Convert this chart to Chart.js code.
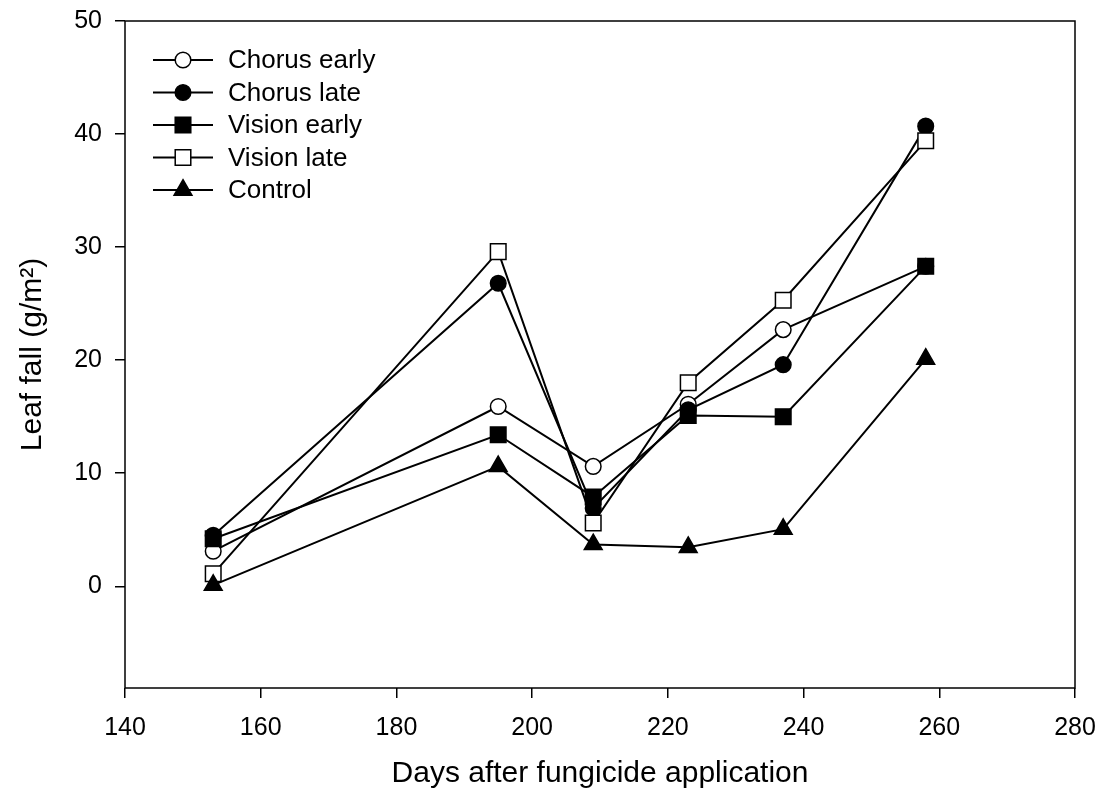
<!DOCTYPE html>
<html>
<head>
<meta charset="utf-8">
<script src="https://cdn.jsdelivr.net/npm/chart.js@4/dist/chart.umd.min.js"></script>
<style>
  body { margin: 0; background: #fff; }
  canvas { display: block; }
</style>
</head>
<body>
<canvas id="myChart" width="1101" height="798"></canvas>
<script>
const days = [153, 195, 209, 223, 237, 258];
const chorusEarly = [3.1, 15.9, 10.6, 16.1, 22.7, 28.3];
const chorusLate = [4.5, 26.8, 6.9, 15.6, 19.6, 40.7];
const visionEarly = [4.2, 13.4, 7.9, 15.1, 15.0, 28.3];
const visionLate = [1.1, 29.6, 5.6, 18.0, 25.3, 39.4];
const control = [0.1, 10.6, 3.7, 3.45, 5.05, 20.1];
const yTicks = [0, 10, 20, 30, 40, 50];

const font = "'Liberation Sans', Arial, sans-serif";

function pairs(values) {
  return days.map((d, i) => ({ x: d, y: values[i] }));
}

function series(label, values, style, fill, radius, order) {
  return {
    label: label,
    data: pairs(values),
    borderColor: "#000",
    borderWidth: 2,
    pointStyle: style,
    pointRadius: radius,
    pointBackgroundColor: fill,
    pointBorderColor: "#000",
    pointBorderWidth: 1.5,
    tension: 0,
    order: order,
  };
}

const datasets = [
  series("Chorus early", chorusEarly, "circle", "#fff", 7.8, 5),
  series("Chorus late", chorusLate, "circle", "#000", 7.8, 4),
  series("Vision early", visionEarly, "rect", "#000", 11, 3),
  series("Vision late", visionLate, "rect", "#fff", 11, 2),
  series("Control", control, "triangle", "#000", 10.3, 1),
];

// box round the plot and a SigmaPlot style legend (line through marker)
const framePlugin = {
  id: "frame",
  afterDraw(chart) {
    const { ctx, chartArea: a } = chart;
    ctx.save();
    ctx.strokeStyle = "#000";
    ctx.lineWidth = 1.5;
    ctx.strokeRect(a.left, a.top, a.right - a.left, a.bottom - a.top);

    const x0 = a.left + 28;
    let y = a.top + 39;
    chart.data.datasets.forEach((ds) => {
      ctx.lineWidth = 2;
      ctx.beginPath();
      ctx.moveTo(x0, y);
      ctx.lineTo(x0 + 60, y);
      ctx.stroke();
      ctx.fillStyle = ds.pointBackgroundColor;
      ctx.strokeStyle = "#000";
      ctx.lineWidth = ds.pointBorderWidth;
      Chart.helpers.drawPoint(ctx, {
        pointStyle: ds.pointStyle,
        radius: ds.pointRadius,
        borderWidth: ds.pointBorderWidth,
        rotation: 0,
      }, x0 + 30, y);
      ctx.fillStyle = "#000";
      ctx.font = "26px " + font;
      ctx.textBaseline = "middle";
      ctx.textAlign = "left";
      ctx.fillText(ds.label, x0 + 75, y + 1);
      y += 32.5;
    });
    ctx.restore();
  },
};

const ctx = document.getElementById("myChart").getContext("2d");
new Chart(ctx, {
  type: "line",
  data: { datasets: datasets },
  options: {
    responsive: false,
    animation: false,
    layout: { padding: { top: 21, right: 26, left: 0, bottom: 0 } },
    plugins: {
      legend: { display: false },
      tooltip: { enabled: false },
    },
    scales: {
      x: {
        type: "linear",
        min: 140,
        max: 280,
        border: { display: false },
        grid: { drawOnChartArea: false, drawTicks: true, tickLength: 10, color: "#000", lineWidth: 1.5 },
        ticks: { stepSize: 20, color: "#000", font: { family: font, size: 25 }, padding: 15, maxRotation: 0 },
        title: {
          display: true,
          text: "Days after fungicide application",
          color: "#000",
          font: { family: font, size: 30 },
          padding: { top: 0, bottom: 6 },
        },
        afterFit(scale) {
          scale.height = 110;
          scale.paddingLeft = 0;
          scale.paddingRight = 0;
        },
      },
      y: {
        type: "linear",
        min: -9,
        max: 50,
        border: { display: false },
        grid: { drawOnChartArea: false, drawTicks: true, tickLength: 10, color: "#000", lineWidth: 1.5 },
        ticks: { color: "#000", font: { family: font, size: 25 }, padding: 13 },
        afterBuildTicks(scale) { scale.ticks = yTicks.map((v) => ({ value: v })); },
        title: {
          display: true,
          text: "Leaf fall (g/m²)",
          color: "#000",
          font: { family: font, size: 30 },
          padding: { top: 15, bottom: 0 },
        },
        afterFit(scale) {
          scale.width = 125;
          scale.paddingTop = 0;
          scale.paddingBottom = 0;
        },
      },
    },
  },
  plugins: [framePlugin],
});
</script>
</body>
</html>
